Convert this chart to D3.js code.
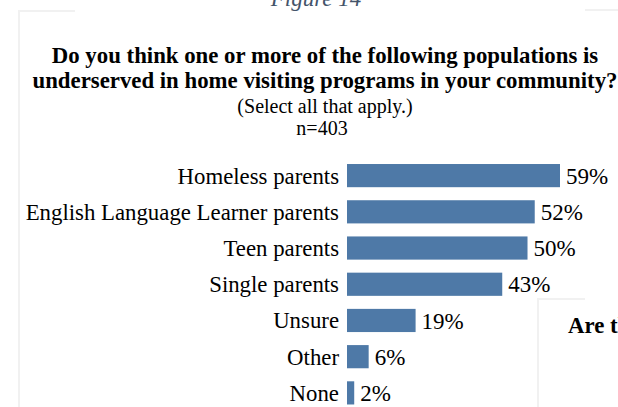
<!DOCTYPE html>
<html>
<head>
<meta charset="utf-8">
<script src="https://cdn.jsdelivr.net/npm/d3@7"></script>
<style>
  html, body { margin: 0; padding: 0; background: #fff; }
  svg { display: block; }
</style>
</head>
<body>
<svg id="chart" width="618" height="407"></svg>
<script>
// Survey responses: share of respondents naming each population as underserved
const categories = ["Homeless parents", "English Language Learner parents", "Teen parents", "Single parents", "Unsure", "Other", "None"];
const percents = [59, 52, 50, 43, 19, 6, 2];
const titleLines = ["Do you think one or more of the following populations is", "underserved in home visiting programs in your community?"];
const subtitle = "(Select all that apply.)";
const sampleNote = "n=403";

const svg = d3.select("#chart");
const serif = "'Liberation Serif', 'Times New Roman', serif";

// Faint panel edges
const edge = svg.append("g").attr("stroke", "#f1f1f1").attr("stroke-width", 2).attr("fill", "none");
edge.append("path").attr("d", "M19,407 L19,11 L75,11");
edge.append("path").attr("d", "M585,10 L618,10");
edge.append("path").attr("d", "M538,407 L538,299 L585,299");

// Figure caption, partly above the visible area
svg.append("text")
  .attr("x", 316).attr("y", 6)
  .attr("text-anchor", "middle")
  .attr("font-family", serif).attr("font-style", "italic")
  .attr("font-size", 23).attr("fill", "#44546a")
  .text("Figure 14");

// Title block
const cx = 325;
svg.append("g").selectAll("text").data(titleLines).join("text")
  .attr("x", cx).attr("y", (d, i) => 63 + i * 25)
  .attr("text-anchor", "middle")
  .attr("font-family", serif).attr("font-weight", "bold")
  .attr("font-size", 22.8).attr("fill", "#000")
  .text(d => d);
svg.append("text").attr("x", cx).attr("y", 113)
  .attr("text-anchor", "middle").attr("font-family", serif)
  .attr("font-size", 20).text(subtitle);
svg.append("text").attr("x", 322).attr("y", 135)
  .attr("text-anchor", "middle").attr("font-family", serif)
  .attr("font-size", 20).text(sampleNote);

// Scales
const x0 = 347;
const x = d3.scaleLinear().domain([0, 59]).range([x0, 560]);
const y = d3.scaleBand().domain(categories).range([157.5, 411]).paddingInner(0.36).paddingOuter(0.18);

// Bars
svg.append("g").selectAll("rect").data(categories).join("rect")
  .attr("x", x(0))
  .attr("y", d => y(d))
  .attr("width", (d, i) => x(percents[i]) - x(0))
  .attr("height", y.bandwidth())
  .attr("fill", "#4e79a7");

// Category labels
svg.append("g").selectAll("text").data(categories).join("text")
  .attr("x", 339)
  .attr("y", d => y(d) + y.bandwidth() / 2)
  .attr("dy", "0.35em")
  .attr("text-anchor", "end")
  .attr("font-family", serif).attr("font-size", 22.8)
  .text(d => d);

// Value labels
svg.append("g").selectAll("text").data(categories).join("text")
  .attr("x", (d, i) => x(percents[i]) + 6)
  .attr("y", d => y(d) + y.bandwidth() / 2)
  .attr("dy", "0.35em")
  .attr("font-family", serif).attr("font-size", 23)
  .text((d, i) => percents[i] + "%");

// Heading of the neighbouring panel, cut off at the edge
svg.append("text").attr("x", 568).attr("y", 333)
  .attr("font-family", serif).attr("font-weight", "bold")
  .attr("font-size", 22.8).text("Are the");
</script>
</body>
</html>
